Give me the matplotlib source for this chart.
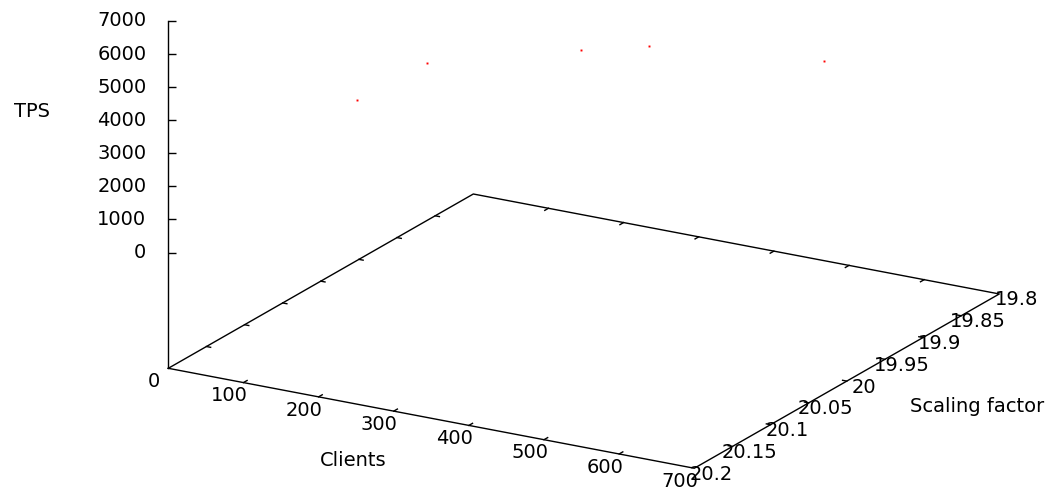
import numpy as np
import matplotlib
matplotlib.use('Agg')
import matplotlib.pyplot as plt

# pgbench results
clients = [48, 141, 346, 437, 670]
scaling = [20, 20, 20, 20, 20]
tps = [2173, 3712, 4983, 5487, 6048]

x_ticks = [0, 100, 200, 300, 400, 500, 600, 700]
y_ticks = [19.8, 19.85, 19.9, 19.95, 20.0, 20.05, 20.1, 20.15, 20.2]
y_tick_labels = ['19.8', '19.85', '19.9', '19.95', '20', '20.05', '20.1', '20.15', '20.2']
z_ticks = [0, 1000, 2000, 3000, 4000, 5000, 6000, 7000]

W, H = 1063, 496
x0, x1 = 0, 700
y0, y1 = 19.8, 20.2
z0, z1 = 0, 7000
zb = z0 - 0.5 * (z1 - z0)   # gnuplot ticslevel 0.5

plt.rcParams['font.family'] = 'DejaVu Sans'
plt.rcParams['font.size'] = 14

fig = plt.figure(figsize=(W / 100, H / 100), dpi=100)
ax = fig.add_axes([0.2, 0, H / W, 1], projection='3d', proj_type='ortho')
ax.view_init(elev=19.24, azim=-60.03)
ax.set_box_aspect((607.2, 610.6, 367.9))
ax.set_xlim(x0, x1)
ax.set_ylim(y1, y0)
ax.set_zlim(zb, z1)
# frame, ticks and labels are drawn by hand below, gnuplot style
ax.set_xticks([])
ax.set_yticks([])
ax.set_zticks([])
ax.set_axis_off()
ax.patch.set_visible(False)


def to_px(xs, ys, zs):
    M = ax.get_proj()
    p = M @ np.vstack([xs, ys, zs, np.ones(len(xs))])
    p = p[:2] / p[3]
    return ax.transData.transform(p.T)


# put the base corners (0, 20.2) and (700, 19.8) where gnuplot had them
target = np.array([[168.3, H - 368.3], [999.3, H - 294.0]])
for _ in range(3):
    fig.canvas.draw()
    bb = ax.get_position()
    ll = np.array([bb.x0 * W, bb.y0 * H])
    side = bb.width * W
    p = to_px([x0, x1], [y1, y0], [zb, zb])
    q = (p - ll) / side
    side = side * np.linalg.norm(target[1] - target[0]) / np.linalg.norm(p[1] - p[0])
    ll = target[0] - side * q[0]
    ax.set_position([ll[0] / W, ll[1] / H, side / W, side / H])
fig.canvas.draw()

k = dict(color='black', lw=1.0)
# base frame and z axis
ax.plot([x0, x1, x1, x0, x0], [y1, y1, y0, y0, y1], [zb] * 5, **k)
ax.plot([x0, x0], [y1, y1], [zb, z1], **k)
ax.plot([x0] * len(z_ticks), [y1] * len(z_ticks), z_ticks, ls='none',
        marker=1, ms=6, mew=1, color='black')

ty = 0.012 * (y1 - y0)
for x in x_ticks[1:-1]:
    ax.plot([x, x], [y1, y1 - ty], [zb, zb], **k)
    ax.plot([x, x], [y0, y0 + ty], [zb, zb], **k)
tx = 0.008 * (x1 - x0)
for y in y_ticks[1:-1]:
    ax.plot([x1, x1 - tx], [y, y], [zb, zb], **k)
    ax.plot([x0, x0 + tx], [y, y], [zb, zb], **k)


def tick_labels(xs, ys, zs, labels, dx, dy, **kw):
    pts = to_px(xs, ys, zs)
    for (px, py), lab in zip(pts, labels):
        fig.text((px + dx) / W, (py + dy) / H, lab, va='center', **kw)


n = len(x_ticks)
tick_labels(x_ticks, [y1] * n, [zb] * n, [str(x) for x in x_ticks], -14.5, -13.3, ha='center')
n = len(y_ticks)
tick_labels([x1] * n, y_ticks, [zb] * n, y_tick_labels, 17, -6, ha='center')
n = len(z_ticks)
tick_labels([x0] * n, [y1] * n, z_ticks, [str(z) for z in z_ticks], -22, 0, ha='right')

ax.plot(clients, scaling, tps, ls='none', marker='s', ms=1.4, mew=0, color='red')

fig.text(31.7 / W, 1 - 111.7 / H, 'TPS', ha='center', va='center')
fig.text(353 / W, 1 - 460.7 / H, 'Clients', ha='center', va='center')
fig.text(976.7 / W, 1 - 406.7 / H, 'Scaling factor', ha='center', va='center')

fig.savefig('out.png', dpi=100)
